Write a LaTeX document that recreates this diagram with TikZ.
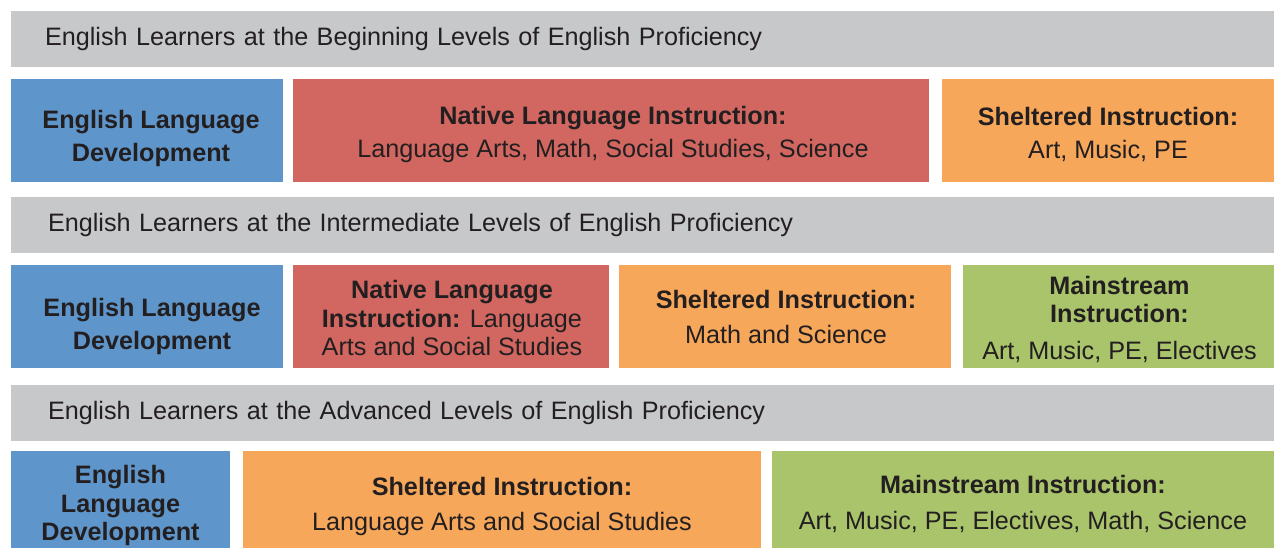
\documentclass[tikz,border=0pt]{standalone}
\usepackage{fontspec}
\setmainfont{Liberation Sans}
\definecolor{bandgray}{HTML}{C7C8CA}
\definecolor{eldblue}{HTML}{5E95CA}
\definecolor{nlired}{HTML}{D16760}
\definecolor{shlorange}{HTML}{F6A75A}
\definecolor{mstgreen}{HTML}{A9C46B}
\definecolor{inkgray}{HTML}{231F20}
\begin{document}
\begin{tikzpicture}[x=1pt,y=-1pt]
    \tikzstyle{every node}+=[inner sep=0pt, outer sep=0pt, text=inkgray, align=center, font=\fontsize{25.2}{33}\selectfont]
    \tikzstyle{band}=[fill=bandgray, anchor=north west, minimum height=56pt, inner xsep=34pt, text width=1195pt, align=left]
    \tikzstyle{cell}=[anchor=north west]
    \tikzstyle{tight}=[font=\fontsize{25.2}{28.5}\selectfont]
    \useasboundingbox (0,0) rectangle (1274,548);
    \node [band] (begband) at (11,11) {English Learners at the Beginning Levels of English Proficiency};
    \node [cell, fill=eldblue, minimum width=272pt, minimum height=103pt] (begeld) at (11,79) {};
    \node (begeldtxt) at ([xshift=4pt,yshift=-8pt]begeld.center) {\textbf{English Language}\\\textbf{Development}};
    \node [cell, fill=nlired, minimum width=636pt, minimum height=103pt] (begnli) at (293,79) {};
    \node (begnlitxt) at ([xshift=2pt,yshift=-4pt]begnli.center) {\textbf{Native Language Instruction:}\\Language Arts, Math, Social Studies, Science};
    \node [cell, fill=shlorange, minimum width=332pt, minimum height=103pt] (begshl) at (942,79) {};
    \node (begshltxt) at ([yshift=-3.5pt]begshl.center) {\textbf{Sheltered Instruction:}\\Art, Music, PE};
    \node [band, inner xsep=37pt, text width=1189pt] (intband) at (11,197) {English Learners at the Intermediate Levels of English Proficiency};
    \node [cell, fill=eldblue, minimum width=272pt, minimum height=103pt] (inteld) at (11,265) {};
    \node (inteldtxt) at ([xshift=5pt,yshift=-9.5pt]inteld.center) {\textbf{English Language}\\\textbf{Development}};
    \node [cell, fill=nlired, minimum width=316pt, minimum height=103pt] (intnli) at (293,265) {};
    \node [tight] (intnlitxt) at ([xshift=1pt,yshift=-1.5pt]intnli.center) {\textbf{Native Language}\\\textbf{Instruction:} Language\\Arts and Social Studies};
    \node [cell, fill=shlorange, minimum width=332pt, minimum height=103pt] (intshl) at (619,265) {};
    \node [font=\fontsize{25.2}{35}\selectfont] (intshltxt) at ([xshift=1pt]intshl.center) {\textbf{Sheltered Instruction:}\\Math and Science};
    \node [cell, fill=mstgreen, minimum width=311pt, minimum height=103pt] (intmst) at (963,265) {};
    \node [tight] (intmsttxt) at ([xshift=1pt,yshift=-2.5pt]intmst.center) {\textbf{Mainstream}\\\textbf{Instruction:}\\[8pt]Art, Music, PE, Electives};
    \node [band, inner xsep=37pt, text width=1189pt] (advband) at (11,385) {English Learners at the Advanced Levels of English Proficiency};
    \node [cell, fill=eldblue, minimum width=219pt, minimum height=97pt] (adveld) at (11,451) {};
    \node [tight] (adveldtxt) at ([yshift=-6pt]adveld.center) {\textbf{English}\\\textbf{Language}\\\textbf{Development}};
    \node [cell, fill=shlorange, minimum width=518pt, minimum height=97pt] (advshl) at (243,451) {};
    \node [font=\fontsize{25.2}{35}\selectfont] (advshltxt) at ([yshift=-7pt]advshl.center) {\textbf{Sheltered Instruction:}\\Language Arts and Social Studies};
    \node [cell, fill=mstgreen, minimum width=502pt, minimum height=97pt] (advmst) at (772,451) {};
    \node [font=\fontsize{25.2}{36}\selectfont] (advmsttxt) at ([yshift=-4pt]advmst.center) {\textbf{Mainstream Instruction:}\\Art, Music, PE, Electives, Math, Science};
\end{tikzpicture}
\end{document}
